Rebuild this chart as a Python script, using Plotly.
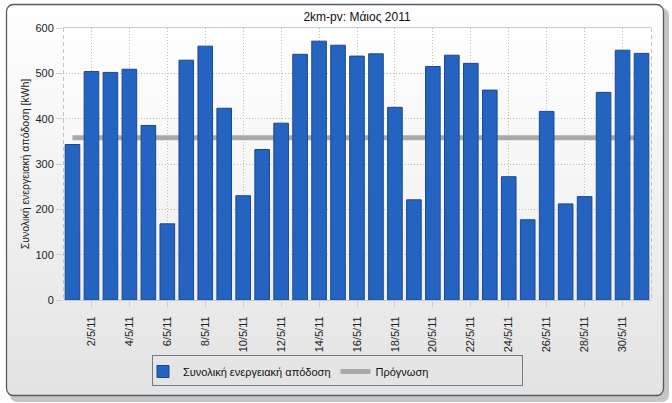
import base64
import plotly.graph_objects as go

# ---- data ----
DATES = ["%d/5/11" % d for d in range(1, 32)]
ENERGY = [343, 504, 502, 509, 385, 168, 529, 560, 423, 230, 332, 390, 542, 571, 562, 538,
          543, 425, 221, 515, 540, 522, 463, 272, 177, 416, 212, 228, 458, 551, 544]
FORECAST = [358, 358, 358, 358, 358, 358, 358, 358, 358, 358, 358, 358, 358, 358, 358, 358,
            358, 358, 358, 358, 358, 358, 358, 358, 358, 358, 358, 358, 358, 358, 358]
TICK_LABELS = DATES[1::2]
TITLE = "2km-pv: Μάιος 2011"
Y_TITLE = "Συνολική ενεργειακή απόδοση [kWh]"
BAR_NAME = "Συνολική ενεργειακή απόδοση"
LINE_NAME = "Πρόγνωση"

W, H = 672, 403
ML, MR, MT, MB = 63, 21, 28, 103
PW, PH = W - ML - MR, H - MT - MB
FONT = "Liberation Sans, Arial, sans-serif"

svg = f'''<svg xmlns="http://www.w3.org/2000/svg" width="{W}" height="{H}" viewBox="0 0 {W} {H}">
<defs>
<linearGradient id="pg" x1="0" y1="0" x2="0" y2="1"><stop offset="0" stop-color="#ffffff"/><stop offset="1" stop-color="#e3e3e3"/></linearGradient>
<linearGradient id="ag" x1="0" y1="0" x2="0" y2="1"><stop offset="0" stop-color="#ffffff"/><stop offset="1" stop-color="#eeeeee"/></linearGradient>
</defs>
<rect x="0" y="0" width="{W}" height="{H}" fill="#ffffff"/>
<rect x="10" y="8" width="659" height="394" rx="7" fill="#c6c6c6"/>
<rect x="6.5" y="4.5" width="657" height="391" rx="7" fill="url(#pg)" stroke="#4f5b66" stroke-width="1.3"/>
<rect x="{ML}" y="{MT-1}" width="{PW}" height="{PH+1}" fill="url(#ag)"/>
<line x1="{ML}" y1="{MT-0.5}" x2="{ML+PW}" y2="{MT-0.5}" stroke="#c3cad1" stroke-width="1"/>
<line x1="{ML+0.5}" y1="{MT}" x2="{ML+0.5}" y2="{MT+PH}" stroke="#c4c4c4" stroke-dasharray="4,3"/>
<line x1="{ML+PW+0.5}" y1="{MT}" x2="{ML+PW+0.5}" y2="{MT+PH}" stroke="#c4c4c4" stroke-dasharray="4,3"/>
<rect x="152.5" y="355.5" width="370" height="30" fill="none" stroke="#6e7c8a" stroke-width="1"/>
</svg>'''
src = "data:image/svg+xml;base64," + base64.b64encode(svg.encode("utf-8")).decode("ascii")

fig = go.Figure()
# forecast line on base axes (drawn beneath the bars)
fig.add_trace(go.Scatter(
    x=DATES, y=FORECAST, mode="lines", name=LINE_NAME,
    line=dict(color="#a9a9a9", width=5), xaxis="x", yaxis="y", legendrank=2,
    hoverinfo="skip"))
# bars on overlaying axes so they sit on top
fig.add_trace(go.Bar(
    x=DATES, y=ENERGY, name=BAR_NAME,
    marker=dict(color="#2563c0", line=dict(color="#1a4792", width=1)),
    xaxis="x2", yaxis="y2", legendrank=1))

xr = [-0.5, len(DATES) - 0.5]
yr = [0, 600]
fig.update_layout(
    width=W, height=H,
    margin=dict(l=ML, r=MR, t=MT, b=MB),
    paper_bgcolor="#ffffff", plot_bgcolor="rgba(0,0,0,0)",
    font=dict(family=FONT, size=11, color="#222222"),
    title=dict(text=TITLE, x=(ML + PW / 2) / W, xanchor="center", y=1 - 17 / H, yanchor="middle",
               font=dict(size=12, color="#111111")),
    bargap=0.23,
    showlegend=True,
    legend=dict(orientation="h", x=(143 - ML) / PW, xanchor="left", y=(MT + PH - 357) / PH, yanchor="top",
                bgcolor="rgba(0,0,0,0)", borderwidth=0, font=dict(size=11, color="#111111"),
                itemwidth=30, traceorder="normal"),
    xaxis=dict(type="category", categoryorder="array", categoryarray=DATES, range=xr,
               tickmode="array", tickvals=TICK_LABELS, ticktext=TICK_LABELS, tickangle=-90,
               showgrid=True, gridcolor="#bdbdbd", griddash="1px,2px", gridwidth=1,
               ticks="outside", ticklen=6, tickcolor="#cfcfcf", ticklabelstandoff=5,
               showline=True, linecolor="#c8c8c8", zeroline=False,
               tickfont=dict(size=11, color="#222222"), fixedrange=True),
    yaxis=dict(range=yr, dtick=100, showgrid=True, gridcolor="#bdbdbd", griddash="1px,2px",
               ticks="outside", ticklen=6, tickcolor="#cfcfcf", zeroline=False, showline=False,
               tickfont=dict(size=11, color="#222222"),
               title=dict(text=Y_TITLE, font=dict(size=10.5, color="#222222"), standoff=3),
               fixedrange=True),
    xaxis2=dict(type="category", categoryorder="array", categoryarray=DATES, range=xr,
                overlaying="x", visible=False, fixedrange=True),
    yaxis2=dict(range=yr, overlaying="y", visible=False, fixedrange=True),
    images=[dict(source=src, xref="paper", yref="paper",
                 x=-ML / PW, y=(PH + MT) / PH, sizex=W / PW, sizey=H / PH,
                 xanchor="left", yanchor="top", sizing="stretch", layer="below")],
)

fig.write_html("out.html")
